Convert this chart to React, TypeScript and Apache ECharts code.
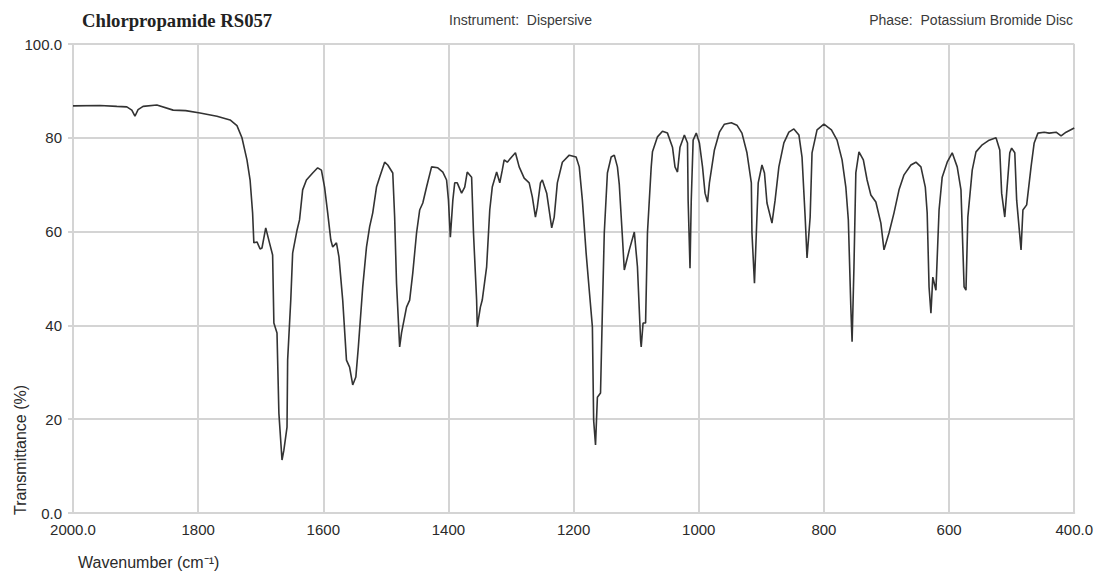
import { useEffect, useRef } from "react";
import * as echarts from "echarts";

// Infrared spectrum of chlorpropamide: [wavenumber (cm-1), transmittance (%)]
const spectrum: [number, number][] = [
  [2000, 86.8], [1957, 86.9], [1930, 86.7], [1914, 86.6], [1906, 85.9], [1901, 84.6], [1896, 86.0], [1888, 86.7],
  [1866, 87.0], [1840, 85.9], [1820, 85.8], [1797, 85.3], [1770, 84.6], [1749, 83.8], [1738, 82.6], [1730, 80.0],
  [1722, 75.3], [1717, 71.0], [1713, 64.0], [1711, 57.6], [1706, 57.8], [1701, 56.3], [1698, 56.5], [1692, 60.8],
  [1686, 57.6], [1681, 55.0], [1679, 40.5], [1674, 38.4], [1671, 21.3], [1666, 11.3], [1663, 13.4], [1658, 18.3],
  [1657, 32.6], [1652, 45.4], [1649, 55.4], [1642, 60.3], [1638, 62.5], [1633, 68.9], [1627, 71.0], [1617, 72.5],
  [1609, 73.6], [1603, 73.1], [1598, 69.5], [1593, 64.0], [1588, 58.2], [1585, 56.7], [1579, 57.6], [1575, 54.6],
  [1569, 45.4], [1563, 32.6], [1558, 31.1], [1553, 27.3], [1548, 29.0], [1544, 35.4], [1537, 48.2], [1531, 56.7],
  [1526, 61.0], [1521, 64.0], [1515, 69.5], [1510, 71.6], [1502, 74.8], [1497, 74.2], [1489, 72.5], [1486, 63.1],
  [1483, 49.0], [1478, 35.4], [1475, 38.4], [1467, 43.9], [1462, 45.4], [1457, 51.2], [1451, 59.7], [1446, 64.6],
  [1441, 66.1], [1435, 69.5], [1427, 73.8], [1417, 73.6], [1409, 72.7], [1403, 71.0], [1400, 66.7], [1397, 58.8],
  [1393, 66.7], [1390, 70.4], [1386, 70.4], [1379, 68.2], [1374, 69.5], [1370, 72.7], [1363, 71.6], [1360, 59.7],
  [1355, 45.4], [1354, 39.7], [1349, 43.9], [1346, 45.4], [1339, 52.5], [1334, 64.6], [1330, 69.5], [1323, 72.7],
  [1318, 70.4], [1314, 73.1], [1311, 75.3], [1306, 74.8], [1299, 75.9], [1293, 76.8], [1287, 73.8], [1279, 71.4],
  [1271, 70.4], [1266, 67.4], [1261, 63.1], [1258, 65.2], [1253, 70.4], [1250, 71.0], [1243, 68.2], [1235, 60.8],
  [1231, 63.1], [1226, 70.4], [1218, 74.8], [1207, 76.3], [1196, 75.9], [1191, 73.8], [1186, 66.7], [1180, 55.4],
  [1175, 47.5], [1170, 39.7], [1168, 19.8], [1165, 14.5], [1162, 24.7], [1157, 25.6], [1154, 43.3], [1151, 59.7],
  [1146, 72.5], [1140, 75.9], [1135, 76.3], [1130, 73.8], [1127, 70.0], [1122, 58.8], [1119, 51.8], [1111, 56.1],
  [1103, 59.9], [1098, 52.5], [1093, 36.9], [1092, 35.4], [1089, 40.5], [1085, 40.5], [1082, 59.7], [1076, 73.8],
  [1074, 77.0], [1066, 80.2], [1058, 81.4], [1050, 81.0], [1042, 78.0], [1038, 73.8], [1034, 72.7], [1030, 78.0],
  [1023, 80.6], [1018, 78.9], [1017, 66.7], [1014, 52.2], [1012, 66.7], [1009, 79.5], [1004, 81.0], [999, 78.9],
  [994, 73.8], [990, 68.2], [986, 66.3], [983, 70.4], [975, 77.4], [967, 81.2], [959, 82.9], [948, 83.2],
  [939, 82.7], [931, 81.0], [923, 76.8], [916, 70.4], [915, 59.7], [911, 49.0], [908, 59.7], [905, 70.4],
  [899, 74.2], [895, 72.5], [891, 66.1], [883, 61.8], [878, 66.7], [872, 73.8], [864, 78.9], [856, 81.2],
  [848, 81.9], [840, 80.6], [835, 75.9], [830, 63.1], [827, 54.4], [822, 63.1], [819, 76.8], [811, 81.7],
  [800, 82.9], [788, 81.7], [779, 79.5], [771, 75.3], [765, 69.5], [761, 62.5], [757, 43.9], [755, 36.5],
  [752, 52.5], [749, 72.5], [744, 77.0], [737, 75.3], [731, 71.0], [725, 67.8], [717, 66.3], [709, 61.8],
  [704, 56.1], [696, 59.7], [688, 64.0], [680, 68.9], [672, 72.1], [661, 74.2], [653, 74.8], [645, 73.8],
  [638, 69.5], [635, 64.0], [632, 48.2], [629, 42.6], [626, 50.3], [621, 47.5], [616, 64.6], [611, 71.6],
  [603, 74.8], [595, 76.8], [587, 73.8], [581, 68.9], [576, 48.2], [573, 47.5], [570, 63.1], [563, 73.1],
  [557, 77.0], [547, 78.5], [536, 79.5], [525, 80.0], [519, 77.4], [516, 68.2], [511, 63.1], [508, 68.2],
  [503, 76.8], [500, 77.8], [495, 76.8], [492, 66.7], [485, 56.1], [482, 64.6], [476, 65.7], [469, 73.8],
  [464, 78.9], [458, 81.0], [448, 81.2], [440, 81.0], [429, 81.2], [421, 80.4], [413, 81.2], [400, 82.1],
];

// Axis ranges and tick steps
const xRange = { min: 400, max: 2000, step: 200 };
const yRange = { min: 0, max: 100, step: 20 };

// Header and axis texts
const titleText = "Chlorpropamide RS057";
const instrumentText = "Instrument:  Dispersive";
const phaseText = "Phase:  Potassium Bromide Disc";
const xAxisTitle = "Wavenumber (cm\u207B\u00B9)";
const yAxisTitle = "Transmittance (%)";

const sans = "'Liberation Sans', Arial, sans-serif";
const gridColor = "#d4d4d4";

// End ticks carry one decimal, inner ticks are whole numbers
const endLabel = (min: number, max: number) => (v: number) =>
  v === min || v === max ? v.toFixed(1) : String(v);

export default function App() {
  const ref = useRef<HTMLDivElement>(null);

  useEffect(() => {
    document.body.style.margin = "0";
    if (!ref.current) return;
    const chart = echarts.init(ref.current, null, { renderer: "svg" });
    chart.setOption({
      animation: false,
      backgroundColor: "#ffffff",
      grid: { left: 73, right: 21, top: 44, bottom: 63, containLabel: false },
      xAxis: {
        type: "value",
        inverse: true,
        min: xRange.min,
        max: xRange.max,
        interval: xRange.step,
        axisLine: { show: true, lineStyle: { color: gridColor, width: 2 } },
        axisTick: { show: false },
        axisLabel: {
          margin: 9,
          fontFamily: sans,
          fontSize: 15,
          color: "#2a2a2a",
          formatter: endLabel(xRange.min, xRange.max),
        },
        splitLine: { show: true, lineStyle: { color: gridColor, width: 2 } },
      },
      yAxis: {
        type: "value",
        min: yRange.min,
        max: yRange.max,
        interval: yRange.step,
        axisLine: { show: false },
        axisTick: { show: true, length: 5, lineStyle: { color: gridColor, width: 2 } },
        axisLabel: {
          margin: 11,
          fontFamily: sans,
          fontSize: 15,
          color: "#2a2a2a",
          formatter: endLabel(yRange.min, yRange.max),
        },
        splitLine: { show: true, lineStyle: { color: gridColor, width: 2 } },
      },
      graphic: [
        {
          type: "text",
          left: 82,
          top: 11,
          style: {
            text: titleText,
            font: "bold 18.7px 'Liberation Serif', 'Times New Roman', serif",
            fill: "#222",
          },
        },
        {
          type: "text",
          left: 449,
          top: 13,
          style: { text: instrumentText, font: `14px ${sans}`, fill: "#3a3a3a" },
        },
        {
          type: "text",
          right: 23,
          top: 13,
          style: { text: phaseText, font: `14px ${sans}`, fill: "#3a3a3a" },
        },
        {
          type: "text",
          left: 78,
          top: 554,
          style: { text: xAxisTitle, font: `16px ${sans}`, fill: "#2a2a2a" },
        },
        {
          type: "text",
          x: 12,
          y: 515,
          rotation: Math.PI / 2,
          style: {
            text: yAxisTitle,
            font: `16px ${sans}`,
            fill: "#2a2a2a",
            align: "left",
            verticalAlign: "top",
          },
        },
      ],
      series: [
        {
          type: "line",
          data: spectrum,
          showSymbol: false,
          symbol: "none",
          lineStyle: { color: "#333333", width: 1.6 },
          silent: true,
        },
      ],
    });
    return () => chart.dispose();
  }, []);

  return <div ref={ref} style={{ width: 1096, height: 576 }} />;
}
